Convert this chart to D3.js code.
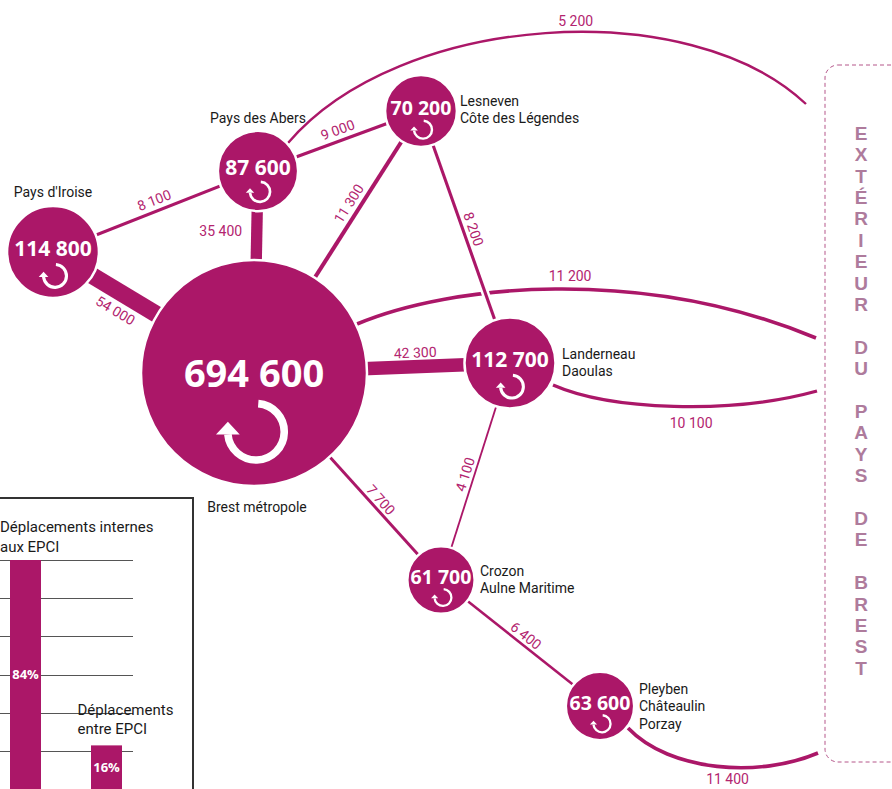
<!DOCTYPE html>
<html>
<head>
<meta charset="utf-8">
<script src="https://cdn.jsdelivr.net/npm/d3@7"></script>
<style>
  body { margin: 0; background: #fff; }
  svg { display: block; }
</style>
</head>
<body>
<div class="canvas"></div>
<script>
const dims = { width: 892, height: 789 };
const magenta = '#ab1768';
const flowColor = '#b3246f';

// communautés (EPCI) et déplacements internes
const communities = ['Brest métropole', "Pays d'Iroise", 'Pays des Abers', 'Lesneven Côte des Légendes',
  'Landerneau Daoulas', 'Crozon Aulne Maritime', 'Pleyben Châteaulin Porzay'];
const communityLines = [['Brest métropole'], ["Pays d'Iroise"], ['Pays des Abers'], ['Lesneven', 'Côte des Légendes'],
  ['Landerneau', 'Daoulas'], ['Crozon', 'Aulne Maritime'], ['Pleyben', 'Châteaulin', 'Porzay']];
const internalTrips = [694600, 114800, 87600, 70200, 112700, 61700, 63600];

// déplacements entre EPCI
const flowFrom = ["Pays d'Iroise", "Pays d'Iroise", 'Pays des Abers', 'Pays des Abers', 'Brest métropole',
  'Lesneven Côte des Légendes', 'Brest métropole', 'Brest métropole', 'Landerneau Daoulas', 'Crozon Aulne Maritime'];
const flowTo = ['Pays des Abers', 'Brest métropole', 'Brest métropole', 'Lesneven Côte des Légendes', 'Lesneven Côte des Légendes',
  'Landerneau Daoulas', 'Landerneau Daoulas', 'Crozon Aulne Maritime', 'Crozon Aulne Maritime', 'Pleyben Châteaulin Porzay'];
const flowValues = [8100, 54000, 35400, 9000, 11300, 8200, 42300, 7700, 4100, 6400];

// déplacements vers l'extérieur
const outsideFrom = ['Pays des Abers', 'Brest métropole', 'Landerneau Daoulas', 'Pleyben Châteaulin Porzay'];
const outsideValues = [5200, 11200, 10100, 11400];
const outsideName = 'EXTÉRIEUR DU PAYS DE BREST';

// encart : part des déplacements
const shareNames = [['Déplacements internes', 'aux EPCI'], ['Déplacements', 'entre EPCI']];
const shareValues = [84, 16];
const shareGrid = [14, 28, 42, 56, 70, 84];

// layout of the diagram (positions only)
const layout = {
  'Brest métropole': { x: 254, y: 373, nx: 3, ny: 134, anchor: 'middle' },
  "Pays d'Iroise": { x: 53, y: 252, nx: 0, ny: -60, anchor: 'middle' },
  'Pays des Abers': { x: 258, y: 171, nx: 0, ny: -53, anchor: 'middle' },
  'Lesneven Côte des Légendes': { x: 421, y: 111, nx: 39, ny: -10, anchor: 'start' },
  'Landerneau Daoulas': { x: 510, y: 363, nx: 52, ny: -9, anchor: 'start' },
  'Crozon Aulne Maritime': { x: 441, y: 580, nx: 39, ny: -9, anchor: 'start' },
  'Pleyben Châteaulin Porzay': { x: 600, y: 706, nx: 39, ny: -17, anchor: 'start' }
};
// label offset from each flow (perpendicular, + = above the text)
const flowLabelOffset = [11, -18, null, 11, 11, 10, 14, 9, 9, 9];
// cubic routes towards the exterior box: start, control 1, control 2, end
const curveRoutes = [
  { pts: [[288, 143], [400, 12], [690, -6], [806, 104]], t: 0.55, dy: -11 },
  { pts: [[357, 324], [450, 285], [640, 265], [816, 338]], t: 0.53, dy: -13 },
  { pts: [[553, 385], [610, 410], [730, 415], [817, 391]], t: 0.56, dy: 16 },
  { pts: [[628, 728], [670, 772], [760, 778], [818, 753]], t: 0.55, dy: 12 }
];

const fmt = d3.formatLocale({ decimal: ',', thousands: '\u00a0', grouping: [3], currency: ['', ' €'] }).format(',');

const svg = d3.select('.canvas').append('svg')
  .attr('width', dims.width)
  .attr('height', dims.height)
  .style('font-family', 'Roboto, sans-serif');

const radius = d3.scaleSqrt().domain([0, d3.max(internalTrips)]).range([0, 113]);
const flowWidth = d3.scaleLinear().domain([0, d3.max(flowValues)]).range([0.6, 17]);

const nodes = communities.map((name, i) => ({
  name, lines: communityLines[i], value: internalTrips[i], r: radius(internalTrips[i]), ...layout[name]
}));
const byName = new Map(nodes.map(d => [d.name, d]));

// ---- exterior box
svg.append('rect')
  .attr('x', 825).attr('y', 65)
  .attr('width', 120).attr('height', 697)
  .attr('rx', 13)
  .attr('fill', 'none')
  .attr('stroke', '#b5568a')
  .attr('stroke-width', 1)
  .attr('stroke-dasharray', '4,3');

const letterY = d3.scalePoint().domain(d3.range(outsideName.length)).range([133, 668]);
svg.append('g').selectAll('text')
  .data(outsideName.split('').map((c, i) => ({ c, i })).filter(d => d.c !== ' '))
  .enter().append('text')
    .attr('x', 861)
    .attr('y', d => letterY(d.i))
    .attr('dy', '0.36em')
    .attr('text-anchor', 'middle')
    .attr('fill', '#ae7b9c')
    .style('font-family', '"Liberation Sans", Arial, sans-serif')
    .style('font-weight', 700)
    .style('font-size', '19px')
    .text(d => d.c);

// ---- curves to the exterior
const bez = (p, t) => {
  const u = 1 - t;
  return [0, 1].map(k => u * u * u * p[0][k] + 3 * u * u * t * p[1][k] + 3 * u * t * t * p[2][k] + t * t * t * p[3][k]);
};
const outside = outsideFrom.map((from, i) => ({ from, value: outsideValues[i], route: curveRoutes[i] }));

svg.append('g').selectAll('path')
  .data(outside)
  .enter().append('path')
    .attr('d', d => {
      const p = d3.path(), q = d.route.pts;
      p.moveTo(q[0][0], q[0][1]);
      p.bezierCurveTo(q[1][0], q[1][1], q[2][0], q[2][1], q[3][0], q[3][1]);
      return p.toString();
    })
    .attr('fill', 'none')
    .attr('stroke', magenta)
    .attr('stroke-width', d => Math.max(2.4, flowWidth(d.value) * 0.9));

svg.append('g').selectAll('text')
  .data(outside)
  .enter().append('text')
    .attr('x', d => bez(d.route.pts, d.route.t)[0])
    .attr('y', d => bez(d.route.pts, d.route.t)[1] + d.route.dy)
    .attr('dy', '0.35em')
    .attr('text-anchor', 'middle')
    .attr('fill', flowColor)
    .style('font-size', '14px')
    .text(d => fmt(d.value));

// ---- flows between communities
const flows = flowValues.map((value, i) => {
  const s = byName.get(flowFrom[i]), t = byName.get(flowTo[i]);
  const dx = t.x - s.x, dy = t.y - s.y, len = Math.hypot(dx, dy);
  const ux = dx / len, uy = dy / len;
  const a = [s.x + ux * s.r, s.y + uy * s.r], b = [t.x - ux * t.r, t.y - uy * t.r];
  let ang = Math.atan2(dy, dx) * 180 / Math.PI;
  if (ang > 90) ang -= 180;
  if (ang < -90) ang += 180;
  return { value, s, t, a, b, ang, off: flowLabelOffset[i] };
});

const flowG = svg.append('g');
flowG.selectAll('line.casing')
  .data(flows)
  .enter().append('line')
    .attr('class', 'casing')
    .attr('x1', d => d.s.x).attr('y1', d => d.s.y)
    .attr('x2', d => d.t.x).attr('y2', d => d.t.y)
    .attr('stroke', '#fff')
    .attr('stroke-width', d => flowWidth(d.value) + 5);
flowG.selectAll('line.flow')
  .data(flows)
  .enter().append('line')
    .attr('class', 'flow')
    .attr('x1', d => d.s.x).attr('y1', d => d.s.y)
    .attr('x2', d => d.t.x).attr('y2', d => d.t.y)
    .attr('stroke', magenta)
    .attr('stroke-width', d => flowWidth(d.value));

flowG.selectAll('text')
  .data(flows)
  .enter().append('text')
    .attr('transform', d => {
      const mx = (d.a[0] + d.b[0]) / 2, my = (d.a[1] + d.b[1]) / 2;
      if (d.off === null) return `translate(${mx - 36}, ${my - 4})`;
      const th = d.ang * Math.PI / 180;
      const px = Math.sin(th) * d.off, py = -Math.cos(th) * d.off;
      return `translate(${mx + px}, ${my + py}) rotate(${d.ang})`;
    })
    .attr('dy', '0.35em')
    .attr('text-anchor', 'middle')
    .attr('fill', flowColor)
    .style('font-size', '14px')
    .text(d => fmt(d.value));

// ---- community circles
const nodeG = svg.append('g').selectAll('g')
  .data(nodes)
  .enter().append('g')
    .attr('transform', d => `translate(${d.x}, ${d.y})`);

nodeG.append('circle')
  .attr('r', d => d.r)
  .attr('fill', magenta)
  .attr('stroke', '#fff')
  .attr('stroke-width', 2.5);

nodeG.append('text')
  .attr('y', d => d.r > 60 ? 0 : -d.r * 0.08)
  .attr('dy', '0.36em')
  .attr('text-anchor', 'middle')
  .attr('fill', '#fff')
  .style('font-family', '"Open Sans", sans-serif')
  .style('font-weight', 700)
  .style('font-size', d => d.r > 60 ? '38px' : (d.r > 38 ? '21px' : '19.5px'))
  .text(d => fmt(d.value));

// loop arrow icon (internal trips)
nodeG.each(function (d) {
  const R = d.r * 0.25, cy = d.r * 0.52, cx = 2;
  const g = d3.select(this);
  const p = d3.path();
  p.arc(cx, cy, R, -Math.PI / 2 + 0.08, Math.PI * 0.97, false);
  g.append('path')
    .attr('d', p.toString())
    .attr('fill', 'none')
    .attr('stroke', '#fff')
    .attr('stroke-width', R * 0.27);
  const ex = cx + R * Math.cos(Math.PI * 0.97), ey = cy + R * Math.sin(Math.PI * 0.97);
  const w = R * 0.42, h = R * 0.45;
  g.append('path')
    .attr('d', `M${ex - w},${ey} L${ex + w},${ey} L${ex},${ey - h} Z`)
    .attr('fill', '#fff');
});

// community names
nodeG.append('text')
  .attr('text-anchor', d => d.anchor)
  .attr('fill', '#1a1a1a')
  .style('font-size', '14px')
  .selectAll('tspan')
  .data(d => d.lines.map((line, i) => ({ line, i, d })))
  .enter().append('tspan')
    .attr('x', t => t.d.nx)
    .attr('y', t => t.d.ny + t.i * 17.5)
    .attr('dy', '0.35em')
    .text(t => t.line);

// ---- inset: share of trips
const inset = svg.append('g');
inset.append('rect')
  .attr('x', -2).attr('y', 498)
  .attr('width', 195).attr('height', 300)
  .attr('fill', 'none')
  .attr('stroke', '#333')
  .attr('stroke-width', 2);

const y = d3.scaleLinear().domain([0, 84]).range([789, 560]);
const x = d3.scalePoint().domain(shareNames.map(d => d[0])).range([25.5, 106.5]);
const barW = 31;

inset.selectAll('line')
  .data(shareGrid)
  .enter().append('line')
    .attr('x1', 0).attr('x2', 133)
    .attr('y1', d => Math.round(y(d)) + 0.5).attr('y2', d => Math.round(y(d)) + 0.5)
    .attr('stroke', '#555')
    .attr('stroke-width', 1);

const shares = shareNames.map((lines, i) => ({ lines, key: lines[0], value: shareValues[i] }));

inset.selectAll('rect.bar')
  .data(shares)
  .enter().append('rect')
    .attr('class', 'bar')
    .attr('x', d => x(d.key) - barW / 2)
    .attr('y', d => y(d.value))
    .attr('width', barW)
    .attr('height', d => y(0) - y(d.value) + 5)
    .attr('fill', magenta);

inset.selectAll('text.pct')
  .data(shares)
  .enter().append('text')
    .attr('class', 'pct')
    .attr('x', d => x(d.key))
    .attr('y', d => y(d.value / 2))
    .attr('dy', '0.35em')
    .attr('text-anchor', 'middle')
    .attr('fill', '#fff')
    .style('font-family', '"Open Sans", sans-serif')
    .style('font-weight', 700)
    .style('font-size', '13px')
    .text(d => d.value + '%');

inset.selectAll('text.cat')
  .data(shares)
  .enter().append('text')
    .attr('class', 'cat')
    .attr('fill', '#1a1a1a')
    .style('font-size', '15px')
    .selectAll('tspan')
    .data((d, i) => d.lines.map((line, j) => ({ line, j, i, d })))
    .enter().append('tspan')
      .attr('x', t => t.i === 0 ? 0 : x(t.d.key) - 29)
      .attr('y', t => (t.i === 0 ? y(d3.max(shareValues)) - 33 : y(t.d.value) - 36) + t.j * 19.5)
      .attr('dy', '0.35em')
      .text(t => t.line);
</script>
</body>
</html>
